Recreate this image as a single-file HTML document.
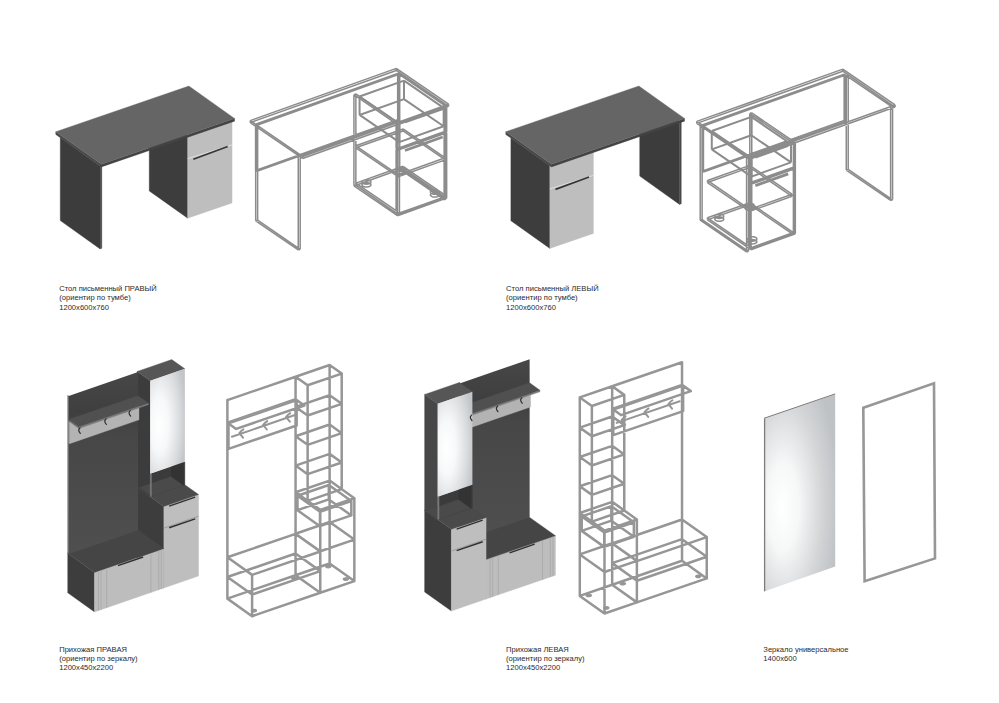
<!DOCTYPE html>
<html><head><meta charset="utf-8"><style>
html,body{margin:0;padding:0;background:#fff;overflow:hidden;}
svg{display:block;}
text{font-family:"Liberation Sans",sans-serif;font-size:7.6px;fill:#2a2a2a;}
</style></head><body>
<svg width="999" height="703" viewBox="0 0 999 703">
<rect width="999" height="703" fill="#fff"/>
<polygon points="187.70,218.20 149.23,190.89 149.23,108.24 187.70,135.55" fill="#3d3d3d" stroke="#3d3d3d" stroke-width="0.35" stroke-linejoin="round"/>
<polygon points="187.70,218.20 232.07,202.95 232.07,120.30 187.70,135.55" fill="#bebebe" stroke="#bebebe" stroke-width="0.35" stroke-linejoin="round"/>
<polygon points="100.08,248.90 60.24,220.61 60.24,137.62 100.08,165.91" fill="#3c3c3c" stroke="#3c3c3c" stroke-width="0.35" stroke-linejoin="round"/>
<polygon points="100.08,248.90 101.85,248.29 101.85,165.30 100.08,165.91" fill="#4a4a4a" stroke="#4a4a4a" stroke-width="0.35" stroke-linejoin="round"/>
<polygon points="101.45,166.88 55.75,134.43 55.75,131.72 101.45,164.17" fill="#484848" stroke="#484848" stroke-width="0.35" stroke-linejoin="round"/>
<polygon points="101.45,166.88 234.55,121.13 234.55,118.42 101.45,164.17" fill="#434343" stroke="#434343" stroke-width="0.35" stroke-linejoin="round"/>
<polygon points="101.45,164.17 234.55,118.42 188.85,85.97 55.75,131.72" fill="#656565" stroke="#656565" stroke-width="0.35" stroke-linejoin="round"/>
<line x1="187.78" y1="158.61" x2="232.14" y2="144.93" stroke="#e2e2e2" stroke-width="0.9"/>
<line x1="193.32" y1="159.18" x2="227.71" y2="146.57" stroke="#353535" stroke-width="1.7"/>
<path d="M302.60 158.46L448.60 106.26M250.30 122.64L396.30 70.44M302.60 156.43L448.60 104.23M250.30 120.61L396.30 68.41M302.60 158.46L250.30 122.64M448.60 106.26L396.30 70.44M302.60 156.43L250.30 120.61M448.60 104.23L396.30 68.41M302.60 158.46L302.60 156.43M448.60 106.26L448.60 104.23M250.30 122.64L250.30 120.61M396.30 70.44L396.30 68.41M298.24 249.96L300.19 249.27M255.70 220.83L257.65 220.14M298.24 155.48L300.19 154.78M255.70 126.34L257.65 125.65M298.24 249.96L255.70 220.83M300.19 249.27L257.65 220.14M298.24 155.48L255.70 126.34M300.19 154.78L257.65 125.65M298.24 249.96L298.24 155.48M300.19 249.27L300.19 154.78M255.70 220.83L255.70 126.34M257.65 220.14L257.65 125.65M444.13 199.71L446.08 199.02M397.75 167.95L399.70 167.26M444.13 105.23L446.08 104.53M397.75 73.47L399.70 72.77M444.13 199.71L397.75 167.95M446.08 199.02L399.70 167.26M444.13 105.23L397.75 73.47M446.08 104.53L399.70 72.77M444.13 199.71L444.13 105.23M446.08 199.02L446.08 104.53M397.75 167.95L397.75 73.47M399.70 167.26L399.70 72.77M256.95 171.40L399.06 120.59M255.56 170.44L397.67 119.63M256.95 125.17L399.06 74.36M255.56 124.21L397.67 73.41M256.95 171.40L255.56 170.44M399.06 120.59L397.67 119.63M256.95 125.17L255.56 124.21M399.06 74.36L397.67 73.41M256.95 171.40L256.95 125.17M399.06 120.59L399.06 74.36M255.56 170.44L255.56 124.21M397.67 119.63L397.67 73.41M397.50 215.72L399.45 215.02M353.92 185.87L355.86 185.17M397.50 124.53L399.45 123.84M353.92 94.68L355.86 93.99M397.50 215.72L353.92 185.87M399.45 215.02L355.86 185.17M397.50 124.53L353.92 94.68M399.45 123.84L355.86 93.99M397.50 215.72L397.50 124.53M399.45 215.02L399.45 123.84M353.92 185.87L353.92 94.68M355.86 185.17L355.86 93.99M399.45 215.02L446.66 198.14M355.86 185.17L403.07 168.29M399.45 212.99L446.66 196.11M355.86 183.14L403.07 166.26M399.45 215.02L355.86 185.17M446.66 198.14L403.07 168.29M399.45 212.99L355.86 183.14M446.66 196.11L403.07 166.26M399.45 215.02L399.45 212.99M446.66 198.14L446.66 196.11M355.86 185.17L355.86 183.14M403.07 168.29L403.07 166.26M398.05 176.73L445.26 159.85M355.86 147.83L403.07 130.96M398.05 174.70L445.26 157.82M355.86 145.80L403.07 128.92M398.05 176.73L355.86 147.83M445.26 159.85L403.07 130.96M398.05 174.70L355.86 145.80M445.26 157.82L403.07 128.92M398.05 176.73L398.05 174.70M445.26 159.85L445.26 157.82M355.86 147.83L355.86 145.80M403.07 130.96L403.07 128.92M397.50 215.72L446.66 198.14M396.11 214.76L445.26 197.19M397.50 150.31L446.66 132.74M396.11 149.36L445.26 131.78M397.50 215.72L396.11 214.76M446.66 198.14L445.26 197.19M397.50 150.31L396.11 149.36M446.66 132.74L445.26 131.78M397.50 215.72L397.50 150.31M446.66 198.14L446.66 132.74M396.11 214.76L396.11 149.36M445.26 197.19L445.26 131.78M397.50 149.80L446.66 132.23M396.11 148.85L445.26 131.28M397.50 124.53L446.66 106.96M396.11 123.58L445.26 106.00M397.50 149.80L396.11 148.85M446.66 132.23L445.26 131.28M397.50 124.53L396.11 123.58M446.66 106.96L445.26 106.00M397.50 149.80L397.50 124.53M446.66 132.23L446.66 106.96M396.11 148.85L396.11 123.58M445.26 131.28L445.26 106.00M438.51 193.57L437.52 193.08L436.27 192.77L434.89 192.66L433.50 192.77L432.24 193.09L431.24 193.58L430.60 194.20L430.37 194.88L430.58 195.57L431.21 196.18L432.19 196.67L433.44 196.99L434.83 197.10L436.22 196.99L437.47 196.67L438.47 196.18L439.12 195.56L439.35 194.88L439.14 194.19ZM438.51 190.78L437.52 190.29L436.27 189.98L434.89 189.87L433.50 189.98L432.24 190.29L431.24 190.78L430.60 191.40L430.37 192.09L430.58 192.77L431.21 193.39L432.19 193.88L433.44 194.19L434.83 194.30L436.22 194.19L437.47 193.88L438.47 193.39L439.12 192.77L439.35 192.08L439.14 191.40ZM370.10 183.50L369.11 183.01L367.86 182.70L366.48 182.59L365.09 182.70L363.83 183.02L362.83 183.51L362.19 184.13L361.96 184.81L362.17 185.50L362.80 186.11L363.78 186.60L365.03 186.92L366.42 187.02L367.81 186.91L369.06 186.60L370.06 186.11L370.71 185.49L370.94 184.80L370.73 184.12ZM370.10 180.71L369.11 180.22L367.86 179.91L366.48 179.80L365.09 179.91L363.83 180.22L362.83 180.71L362.19 181.33L361.96 182.02L362.17 182.70L362.80 183.32L363.78 183.81L365.03 184.12L366.42 184.23L367.81 184.12L369.06 183.81L370.06 183.31L370.71 182.70L370.94 182.01L370.73 181.33ZM405.38 170.89L404.40 170.40L403.15 170.08L401.76 169.98L400.37 170.09L399.12 170.40L398.12 170.89L397.47 171.51L397.24 172.20L397.45 172.88L398.08 173.50L399.07 173.99L400.32 174.30L401.70 174.41L403.09 174.30L404.35 173.98L405.35 173.49L405.99 172.87L406.22 172.19L406.01 171.51ZM405.38 168.09L404.40 167.60L403.15 167.29L401.76 167.18L400.37 167.29L399.12 167.61L398.12 168.10L397.47 168.72L397.24 169.40L397.45 170.09L398.08 170.70L399.07 171.19L400.32 171.51L401.70 171.62L403.09 171.51L404.35 171.19L405.35 170.70L405.99 170.08L406.22 169.40L406.01 168.71Z" fill="none" stroke="#8c8c8c" stroke-width="1.5" stroke-linejoin="round"/>
<path d="M399.24 142.11L443.65 126.23M359.57 114.94L403.98 99.07M399.24 123.69L443.65 107.81M359.57 96.53L403.98 80.65M399.24 142.11L359.57 114.94M443.65 126.23L403.98 99.07M399.24 123.69L359.57 96.53M443.65 107.81L403.98 80.65M399.24 142.11L399.24 123.69M443.65 126.23L443.65 107.81M359.57 114.94L359.57 96.53M403.98 99.07L403.98 80.65" fill="none" stroke="#8c8c8c" stroke-width="2" stroke-linejoin="round"/>
<path d="M404.98 122.04L442.69 108.56M404.98 150.49L442.69 137.00" fill="none" stroke="#8c8c8c" stroke-width="2.8"/>
<polygon points="679.52,204.40 639.69,176.12 639.69,93.13 679.52,121.41" fill="#3c3c3c" stroke="#3c3c3c" stroke-width="0.35" stroke-linejoin="round"/>
<polygon points="679.52,204.40 681.30,203.79 681.30,120.80 679.52,121.41" fill="#4a4a4a" stroke="#4a4a4a" stroke-width="0.35" stroke-linejoin="round"/>
<polygon points="549.85,248.40 510.85,220.71 510.85,138.05 549.85,165.74" fill="#3d3d3d" stroke="#3d3d3d" stroke-width="0.35" stroke-linejoin="round"/>
<polygon points="549.85,248.40 593.44,233.41 593.44,150.76 549.85,165.74" fill="#bebebe" stroke="#bebebe" stroke-width="0.35" stroke-linejoin="round"/>
<polygon points="551.45,166.88 505.75,134.43 505.75,131.72 551.45,164.17" fill="#484848" stroke="#484848" stroke-width="0.35" stroke-linejoin="round"/>
<polygon points="551.45,166.88 684.55,121.13 684.55,118.42 551.45,164.17" fill="#434343" stroke="#434343" stroke-width="0.35" stroke-linejoin="round"/>
<polygon points="551.45,164.17 684.55,118.42 638.85,85.97 505.75,131.72" fill="#656565" stroke="#656565" stroke-width="0.35" stroke-linejoin="round"/>
<line x1="549.93" y1="188.80" x2="593.52" y2="175.40" stroke="#e2e2e2" stroke-width="0.9"/>
<line x1="555.47" y1="189.37" x2="589.08" y2="177.03" stroke="#353535" stroke-width="1.7"/>
<path d="M895.10 107.01L749.10 159.21M842.80 71.19L696.80 123.39M895.10 104.98L749.10 157.18M842.80 69.16L696.80 121.36M895.10 107.01L842.80 71.19M749.10 159.21L696.80 123.39M895.10 104.98L842.80 69.16M749.10 157.18L696.80 121.36M895.10 107.01L895.10 104.98M749.10 159.21L749.10 157.18M842.80 71.19L842.80 69.16M696.80 123.39L696.80 121.36M892.58 199.77L890.63 200.46M848.21 169.38L846.26 170.08M892.58 105.28L890.63 105.98M848.21 74.89L846.26 75.59M892.58 199.77L848.21 169.38M890.63 200.46L846.26 170.08M892.58 105.28L848.21 74.89M890.63 105.98L846.26 75.59M892.58 199.77L892.58 105.28M890.63 200.46L890.63 105.98M848.21 169.38L848.21 74.89M846.26 170.08L846.26 75.59M748.52 251.27L746.57 251.97M702.14 219.51L700.20 220.21M748.52 156.78L746.57 157.48M702.14 125.02L700.20 125.72M748.52 251.27L702.14 219.51M746.57 251.97L700.20 220.21M748.52 156.78L702.14 125.02M746.57 157.48L700.20 125.72M748.52 251.27L748.52 156.78M746.57 251.97L746.57 157.48M702.14 219.51L702.14 125.02M700.20 220.21L700.20 125.72M845.56 121.34L703.45 172.15M844.17 120.38L702.06 171.19M845.56 75.11L703.45 125.92M844.17 74.16L702.06 124.96M845.56 121.34L844.17 120.38M703.45 172.15L702.06 171.19M845.56 75.11L844.17 74.16M703.45 125.92L702.06 124.96M845.56 121.34L845.56 75.11M703.45 172.15L703.45 125.92M844.17 120.38L844.17 74.16M702.06 171.19L702.06 124.96M795.33 233.87L793.39 234.56M751.75 204.02L749.80 204.71M795.33 142.68L793.39 143.38M751.75 112.83L749.80 113.53M795.33 233.87L751.75 204.02M793.39 234.56L749.80 204.71M795.33 142.68L751.75 112.83M793.39 143.38L749.80 113.53M795.33 233.87L795.33 142.68M793.39 234.56L793.39 143.38M751.75 204.02L751.75 112.83M749.80 204.71L749.80 113.53M793.39 234.56L751.05 249.70M749.80 204.71L707.46 219.85M793.39 232.53L751.05 247.67M749.80 202.68L707.46 217.82M793.39 234.56L749.80 204.71M751.05 249.70L707.46 219.85M793.39 232.53L749.80 202.68M751.05 247.67L707.46 217.82M793.39 234.56L793.39 232.53M751.05 249.70L751.05 247.67M749.80 204.71L749.80 202.68M707.46 219.85L707.46 217.82M791.99 196.27L749.65 211.41M749.80 167.38L707.46 182.51M791.99 194.24L749.65 209.38M749.80 165.34L707.46 180.48M791.99 196.27L749.80 167.38M749.65 211.41L707.46 182.51M791.99 194.24L749.80 165.34M749.65 209.38L707.46 180.48M791.99 196.27L791.99 194.24M749.65 211.41L749.65 209.38M749.80 167.38L749.80 165.34M707.46 182.51L707.46 180.48M795.33 233.87L751.05 249.70M793.94 232.91L749.65 248.75M795.33 168.46L751.05 184.30M793.94 167.51L749.65 183.34M795.33 233.87L793.94 232.91M751.05 249.70L749.65 248.75M795.33 168.46L793.94 167.51M751.05 184.30L749.65 183.34M795.33 233.87L795.33 168.46M751.05 249.70L751.05 184.30M793.94 232.91L793.94 167.51M749.65 248.75L749.65 183.34M795.33 167.95L751.05 183.79M793.94 167.00L749.65 182.83M795.33 142.68L751.05 158.52M793.94 141.73L749.65 157.56M795.33 167.95L793.94 167.00M751.05 183.79L749.65 182.83M795.33 142.68L793.94 141.73M751.05 158.52L749.65 157.56M795.33 167.95L795.33 142.68M751.05 183.79L751.05 158.52M793.94 167.00L793.94 141.73M749.65 182.83L749.65 157.56M748.74 243.04L748.11 242.43L747.90 241.74L748.13 241.06L748.77 240.44L749.77 239.95L751.03 239.63L752.42 239.52L753.80 239.63L755.05 239.94L756.04 240.43L756.67 241.05L756.88 241.74L756.65 242.42L756.00 243.04L755.00 243.53L753.75 243.85L752.36 243.96L750.97 243.85L749.72 243.53ZM748.74 240.25L748.11 239.63L747.90 238.95L748.13 238.26L748.77 237.64L749.77 237.15L751.03 236.84L752.42 236.73L753.80 236.84L755.05 237.15L756.04 237.64L756.67 238.26L756.88 238.94L756.65 239.63L756.00 240.25L755.00 240.74L753.75 241.05L752.36 241.16L750.97 241.05L749.72 240.74ZM746.03 209.48L745.40 208.87L745.19 208.18L745.42 207.50L746.06 206.88L747.06 206.39L748.32 206.07L749.71 205.96L751.10 206.07L752.34 206.38L753.33 206.87L753.96 207.49L754.17 208.17L753.94 208.86L753.29 209.48L752.29 209.97L751.04 210.28L749.65 210.39L748.26 210.29L747.02 209.97ZM746.03 206.69L745.40 206.07L745.19 205.39L745.42 204.70L746.06 204.08L747.06 203.59L748.32 203.28L749.71 203.17L751.10 203.28L752.34 203.59L753.33 204.08L753.96 204.70L754.17 205.38L753.94 206.07L753.29 206.68L752.29 207.18L751.04 207.49L749.65 207.60L748.26 207.49L747.02 207.18ZM715.61 220.36L714.98 219.74L714.77 219.06L715.00 218.37L715.65 217.75L716.65 217.26L717.90 216.95L719.29 216.84L720.68 216.94L721.93 217.26L722.91 217.75L723.54 218.37L723.75 219.05L723.52 219.73L722.88 220.35L721.88 220.84L720.62 221.16L719.23 221.27L717.85 221.16L716.60 220.85ZM715.61 217.56L714.98 216.95L714.77 216.26L715.00 215.58L715.65 214.96L716.65 214.47L717.90 214.15L719.29 214.04L720.68 214.15L721.93 214.46L722.91 214.95L723.54 215.57L723.75 216.26L723.52 216.94L722.88 217.56L721.88 218.05L720.62 218.37L719.23 218.48L717.85 218.37L716.60 218.05Z" fill="none" stroke="#8c8c8c" stroke-width="1.5" stroke-linejoin="round"/>
<path d="M790.99 162.43L751.44 176.57M751.32 135.27L711.78 149.41M790.99 144.02L751.44 158.15M751.32 116.85L711.78 130.99M790.99 162.43L751.32 135.27M751.44 176.57L711.78 149.41M790.99 144.02L751.32 116.85M751.44 158.15L711.78 130.99M790.99 162.43L790.99 144.02M751.44 176.57L751.44 158.15M751.32 135.27L751.32 116.85M711.78 149.41L711.78 130.99" fill="none" stroke="#8c8c8c" stroke-width="2" stroke-linejoin="round"/>
<path d="M788.21 145.41L755.36 157.16M788.21 173.86L755.36 185.60" fill="none" stroke="#8c8c8c" stroke-width="2.8"/>
<defs><radialGradient id="hg1" cx="0.3" cy="0.5" r="0.75" fx="0.25" fy="0.55"><stop offset="0" stop-color="#ffffff"/><stop offset="0.35" stop-color="#f7f8f9"/><stop offset="0.75" stop-color="#d9dbdd"/><stop offset="1" stop-color="#c3c6c9"/></radialGradient>
<linearGradient id="bpg" x1="0" y1="0" x2="0" y2="1"><stop offset="0" stop-color="#474747"/><stop offset="0.22" stop-color="#3f3f3f"/><stop offset="0.35" stop-color="#474747"/><stop offset="1" stop-color="#4f4f4f"/></linearGradient></defs>
<polygon points="163.89,588.05 137.09,569.02 137.09,487.38 163.89,506.42" fill="#3d3d3d" stroke="#3d3d3d" stroke-width="0.35" stroke-linejoin="round"/>
<polygon points="163.89,588.05 198.59,576.12 198.59,494.49 163.89,506.42" fill="#bebebe" stroke="#bebebe" stroke-width="0.35" stroke-linejoin="round"/>
<polygon points="163.89,506.42 198.59,494.49 171.78,475.46 137.09,487.38" fill="#4a4a4a" stroke="#4a4a4a" stroke-width="0.35" stroke-linejoin="round"/>
<line x1="169.16" y1="506.11" x2="195.18" y2="497.16" stroke="#303030" stroke-width="1.4"/>
<line x1="163.95" y1="528.10" x2="198.65" y2="516.18" stroke="#8e8e8e" stroke-width="0.7"/>
<line x1="169.16" y1="527.75" x2="195.18" y2="518.81" stroke="#303030" stroke-width="1.4"/>
<polygon points="94.50,611.90 67.70,592.87 67.70,553.35 94.50,572.39" fill="#3d3d3d" stroke="#3d3d3d" stroke-width="0.35" stroke-linejoin="round"/>
<polygon points="94.50,611.90 163.89,588.05 163.89,548.53 94.50,572.39" fill="#bdbdbd" stroke="#bdbdbd" stroke-width="0.35" stroke-linejoin="round"/>
<polygon points="94.50,572.39 163.89,548.53 137.09,529.50 67.70,553.35" fill="#454545" stroke="#454545" stroke-width="0.35" stroke-linejoin="round"/>
<line x1="117.98" y1="565.64" x2="143.13" y2="556.99" stroke="#303030" stroke-width="1.4"/>
<line x1="98.46" y1="610.60" x2="98.46" y2="571.09" stroke="#a5a5a5" stroke-width="0.7"/>
<line x1="101.07" y1="609.71" x2="101.07" y2="570.19" stroke="#a5a5a5" stroke-width="0.7"/>
<line x1="106.70" y1="607.77" x2="106.70" y2="568.25" stroke="#a5a5a5" stroke-width="0.7"/>
<line x1="150.94" y1="592.56" x2="150.94" y2="553.05" stroke="#a5a5a5" stroke-width="0.7"/>
<line x1="158.75" y1="589.88" x2="158.75" y2="550.37" stroke="#a5a5a5" stroke-width="0.7"/>
<line x1="161.35" y1="588.99" x2="161.35" y2="549.47" stroke="#a5a5a5" stroke-width="0.7"/>
<polygon points="150.19,496.69 137.09,487.38 137.09,371.45 150.19,380.75" fill="#3c3c3c" stroke="#3c3c3c" stroke-width="0.35" stroke-linejoin="round"/>
<polygon points="150.19,380.75 184.89,368.83 171.78,359.52 137.09,371.45" fill="#565656" stroke="#565656" stroke-width="0.35" stroke-linejoin="round"/>
<polygon points="150.19,496.69 184.89,484.76 184.89,461.77 150.19,473.70" fill="#3b3b3b" stroke="#3b3b3b" stroke-width="0.35" stroke-linejoin="round"/>
<polygon points="151.58,496.21 183.50,485.24 171.35,476.61 139.43,487.58" fill="#4a4a4a" stroke="#4a4a4a" stroke-width="0.35" stroke-linejoin="round"/>
<polygon points="183.50,485.24 171.35,476.61 171.35,453.62 183.50,462.25" fill="#333333" stroke="#333333" stroke-width="0.35" stroke-linejoin="round"/>
<polygon points="150.19,496.69 151.58,496.21 151.58,473.22 150.19,473.70" fill="#7a7a7a" stroke="#7a7a7a" stroke-width="0.35" stroke-linejoin="round"/>
<polygon points="150.19,473.70 184.89,461.77 184.89,368.83 150.19,380.75" fill="url(#hg1)" stroke="none" stroke-width="0.35" stroke-linejoin="round"/>
<polygon points="68.65,554.03 67.70,553.35 67.70,395.30 68.65,395.97" fill="#5a5a5a" stroke="#5a5a5a" stroke-width="0.35" stroke-linejoin="round"/>
<polygon points="68.65,554.03 138.04,530.18 138.04,372.12 68.65,395.97" fill="url(#bpg)" stroke="none" stroke-width="0.35" stroke-linejoin="round"/>
<polygon points="69.60,443.71 68.65,443.03 68.65,421.12 69.60,421.80" fill="#9a9a9a" stroke="#9a9a9a" stroke-width="0.35" stroke-linejoin="round"/>
<polygon points="69.60,443.71 138.99,419.86 138.99,397.95 69.60,421.80" fill="#b3b3b3" stroke="#b3b3b3" stroke-width="0.35" stroke-linejoin="round"/>
<polygon points="79.01,428.48 68.65,421.12 68.65,419.50 79.01,426.86" fill="#6a6a6a" stroke="#6a6a6a" stroke-width="0.35" stroke-linejoin="round"/>
<polygon points="79.01,428.48 148.41,404.63 148.41,403.01 79.01,426.86" fill="#7c7c7c" stroke="#7c7c7c" stroke-width="0.35" stroke-linejoin="round"/>
<polygon points="79.01,426.86 148.41,403.01 138.04,395.65 68.65,419.50" fill="#505050" stroke="#505050" stroke-width="0.35" stroke-linejoin="round"/>
<path d="M79.94 427.95q-2.6 2.2 0.4 5.4" fill="none" stroke="#2b2b2b" stroke-width="1.2" stroke-linecap="round"/>
<path d="M105.97 419.00q-2.6 2.2 0.4 5.4" fill="none" stroke="#2b2b2b" stroke-width="1.2" stroke-linecap="round"/>
<path d="M130.25 410.65q-2.6 2.2 0.4 5.4" fill="none" stroke="#2b2b2b" stroke-width="1.2" stroke-linecap="round"/>
<polygon points="486.10,599.07 459.29,580.04 459.29,540.53 486.10,559.56" fill="#3d3d3d" stroke="#3d3d3d" stroke-width="0.35" stroke-linejoin="round"/>
<polygon points="486.10,599.07 555.49,575.22 555.49,535.71 486.10,559.56" fill="#bdbdbd" stroke="#bdbdbd" stroke-width="0.35" stroke-linejoin="round"/>
<polygon points="486.10,559.56 555.49,535.71 528.68,516.68 459.29,540.53" fill="#454545" stroke="#454545" stroke-width="0.35" stroke-linejoin="round"/>
<line x1="509.57" y1="552.81" x2="534.73" y2="544.16" stroke="#303030" stroke-width="1.4"/>
<line x1="490.06" y1="597.78" x2="490.06" y2="558.26" stroke="#a5a5a5" stroke-width="0.7"/>
<line x1="492.66" y1="596.88" x2="492.66" y2="557.37" stroke="#a5a5a5" stroke-width="0.7"/>
<line x1="498.30" y1="594.94" x2="498.30" y2="555.43" stroke="#a5a5a5" stroke-width="0.7"/>
<line x1="542.54" y1="579.74" x2="542.54" y2="540.22" stroke="#a5a5a5" stroke-width="0.7"/>
<line x1="550.34" y1="577.05" x2="550.34" y2="537.54" stroke="#a5a5a5" stroke-width="0.7"/>
<line x1="552.94" y1="576.16" x2="552.94" y2="536.65" stroke="#a5a5a5" stroke-width="0.7"/>
<polygon points="460.25,541.21 459.29,540.53 459.29,382.47 460.25,383.15" fill="#5a5a5a" stroke="#5a5a5a" stroke-width="0.35" stroke-linejoin="round"/>
<polygon points="460.25,541.21 529.64,517.35 529.64,359.30 460.25,383.15" fill="url(#bpg)" stroke="none" stroke-width="0.35" stroke-linejoin="round"/>
<polygon points="461.20,430.88 460.25,430.21 460.25,408.29 461.20,408.97" fill="#9a9a9a" stroke="#9a9a9a" stroke-width="0.35" stroke-linejoin="round"/>
<polygon points="461.20,430.88 530.59,407.03 530.59,385.12 461.20,408.97" fill="#b3b3b3" stroke="#b3b3b3" stroke-width="0.35" stroke-linejoin="round"/>
<polygon points="470.61,415.65 460.25,408.29 460.25,406.68 470.61,414.04" fill="#6a6a6a" stroke="#6a6a6a" stroke-width="0.35" stroke-linejoin="round"/>
<polygon points="470.61,415.65 540.00,391.80 540.00,390.19 470.61,414.04" fill="#7c7c7c" stroke="#7c7c7c" stroke-width="0.35" stroke-linejoin="round"/>
<polygon points="470.61,414.04 540.00,390.19 529.64,382.83 460.25,406.68" fill="#505050" stroke="#505050" stroke-width="0.35" stroke-linejoin="round"/>
<polygon points="451.40,611.00 424.60,591.97 424.60,510.34 451.40,529.37" fill="#3d3d3d" stroke="#3d3d3d" stroke-width="0.35" stroke-linejoin="round"/>
<polygon points="451.40,611.00 486.10,599.07 486.10,517.44 451.40,529.37" fill="#bebebe" stroke="#bebebe" stroke-width="0.35" stroke-linejoin="round"/>
<polygon points="451.40,529.37 486.10,517.44 459.29,498.41 424.60,510.34" fill="#4a4a4a" stroke="#4a4a4a" stroke-width="0.35" stroke-linejoin="round"/>
<line x1="456.66" y1="529.06" x2="482.69" y2="520.11" stroke="#303030" stroke-width="1.4"/>
<line x1="451.46" y1="551.05" x2="486.16" y2="539.13" stroke="#8e8e8e" stroke-width="0.7"/>
<line x1="456.66" y1="550.70" x2="482.69" y2="541.76" stroke="#303030" stroke-width="1.4"/>
<polygon points="437.70,519.64 424.60,510.34 424.60,394.40 437.70,403.70" fill="#474747" stroke="#474747" stroke-width="0.35" stroke-linejoin="round"/>
<polygon points="437.70,403.70 472.40,391.78 459.29,382.47 424.60,394.40" fill="#565656" stroke="#565656" stroke-width="0.35" stroke-linejoin="round"/>
<polygon points="437.70,519.64 472.40,507.71 472.40,484.72 437.70,496.65" fill="#3b3b3b" stroke="#3b3b3b" stroke-width="0.35" stroke-linejoin="round"/>
<polygon points="439.09,519.16 471.01,508.19 458.86,499.56 426.94,510.54" fill="#4a4a4a" stroke="#4a4a4a" stroke-width="0.35" stroke-linejoin="round"/>
<polygon points="471.01,508.19 458.86,499.56 458.86,476.57 471.01,485.20" fill="#333333" stroke="#333333" stroke-width="0.35" stroke-linejoin="round"/>
<polygon points="437.70,519.64 439.09,519.16 439.09,496.17 437.70,496.65" fill="#7a7a7a" stroke="#7a7a7a" stroke-width="0.35" stroke-linejoin="round"/>
<polygon points="437.70,496.65 472.40,484.72 472.40,391.78 437.70,403.70" fill="url(#hg1)" stroke="none" stroke-width="0.35" stroke-linejoin="round"/>
<path d="M471.54 415.12q-2.6 2.2 0.4 5.4" fill="none" stroke="#2b2b2b" stroke-width="1.2" stroke-linecap="round"/>
<path d="M497.56 406.18q-2.6 2.2 0.4 5.4" fill="none" stroke="#2b2b2b" stroke-width="1.2" stroke-linecap="round"/>
<path d="M521.85 397.83q-2.6 2.2 0.4 5.4" fill="none" stroke="#2b2b2b" stroke-width="1.2" stroke-linecap="round"/>
<path d="M227.39 598.61L295.56 575.21M227.39 598.61L295.56 575.21M227.39 400.10L295.56 376.70M227.39 400.10L295.56 376.70M227.39 598.61L227.39 598.61M295.56 575.21L295.56 575.21M227.39 400.10L227.39 400.10M295.56 376.70L295.56 376.70M227.39 598.61L227.39 400.10M295.56 575.21L295.56 376.70M227.39 598.61L227.39 400.10M295.56 575.21L295.56 376.70M228.49 448.88L296.65 425.48M228.49 448.88L296.65 425.48M228.49 423.44L296.65 400.04M228.49 423.44L296.65 400.04M228.49 448.88L228.49 448.88M296.65 425.48L296.65 425.48M228.49 423.44L228.49 423.44M296.65 400.04L296.65 400.04M228.49 448.88L228.49 423.44M296.65 425.48L296.65 400.04M228.49 448.88L228.49 423.44M296.65 425.48L296.65 400.04M236.18 428.91L304.34 405.51M227.39 422.66L295.56 399.26M236.18 428.91L304.34 405.51M227.39 422.66L295.56 399.26M236.18 428.91L227.39 422.66M304.34 405.51L295.56 399.26M236.18 428.91L227.39 422.66M304.34 405.51L295.56 399.26M236.18 428.91L236.18 428.91M304.34 405.51L304.34 405.51M227.39 422.66L227.39 422.66M295.56 399.26L295.56 399.26M252.10 616.20L320.26 592.80M227.39 598.61L295.56 575.21M252.10 574.87L320.26 551.47M227.39 557.28L295.56 533.88M252.10 616.20L227.39 598.61M320.26 592.80L295.56 575.21M252.10 574.87L227.39 557.28M320.26 551.47L295.56 533.88M252.10 616.20L252.10 574.87M320.26 592.80L320.26 551.47M227.39 598.61L227.39 557.28M295.56 575.21L295.56 533.88M252.10 594.54L320.26 571.14M227.39 576.95L295.56 553.55M252.10 594.54L320.26 571.14M227.39 576.95L295.56 553.55M252.10 594.54L227.39 576.95M320.26 571.14L295.56 553.55M252.10 594.54L227.39 576.95M320.26 571.14L295.56 553.55M252.10 594.54L252.10 594.54M320.26 571.14L320.26 571.14M227.39 576.95L227.39 576.95M295.56 553.55L295.56 553.55M320.26 592.80L354.34 581.10M295.56 575.21L329.63 563.50M320.26 509.88L354.34 498.18M295.56 492.28L329.63 480.58M320.26 592.80L295.56 575.21M354.34 581.10L329.63 563.50M320.26 509.88L295.56 492.28M354.34 498.18L329.63 480.58M320.26 592.80L320.26 509.88M354.34 581.10L354.34 498.18M295.56 575.21L295.56 492.28M329.63 563.50L329.63 480.58M320.26 551.29L354.34 539.59M295.56 533.70L329.63 522.00M320.26 551.29L354.34 539.59M295.56 533.70L329.63 522.00M320.26 551.29L295.56 533.70M354.34 539.59L329.63 522.00M320.26 551.29L295.56 533.70M354.34 539.59L329.63 522.00M320.26 551.29L320.26 551.29M354.34 539.59L354.34 539.59M295.56 533.70L295.56 533.70M329.63 522.00L329.63 522.00M319.98 526.19L351.33 515.43M297.47 510.16L328.82 499.40M319.98 511.76L351.33 500.99M297.47 495.73L328.82 484.96M319.98 526.19L297.47 510.16M351.33 515.43L328.82 499.40M319.98 511.76L297.47 495.73M351.33 500.99L328.82 484.96M319.98 526.19L319.98 511.76M351.33 515.43L351.33 500.99M297.47 510.16L297.47 495.73M328.82 499.40L328.82 484.96M307.63 500.89L341.71 489.19M295.56 492.28L329.63 480.58M307.63 385.30L341.71 373.60M295.56 376.70L329.63 365.00M307.63 500.89L295.56 492.28M341.71 489.19L329.63 480.58M307.63 385.30L295.56 376.70M341.71 373.60L329.63 365.00M307.63 500.89L307.63 385.30M341.71 489.19L341.71 373.60M295.56 492.28L295.56 376.70M329.63 480.58L329.63 365.00M307.63 474.18L341.71 462.48M295.56 465.58L329.63 453.88M307.63 474.18L341.71 462.48M295.56 465.58L329.63 453.88M307.63 474.18L295.56 465.58M341.71 462.48L329.63 453.88M307.63 474.18L295.56 465.58M341.71 462.48L329.63 453.88M307.63 474.18L307.63 474.18M341.71 462.48L341.71 462.48M295.56 465.58L295.56 465.58M329.63 453.88L329.63 453.88M307.63 444.85L341.71 433.15M295.56 436.25L329.63 424.55M307.63 444.85L341.71 433.15M295.56 436.25L329.63 424.55M307.63 444.85L295.56 436.25M341.71 433.15L329.63 424.55M307.63 444.85L295.56 436.25M341.71 433.15L329.63 424.55M307.63 444.85L307.63 444.85M341.71 433.15L341.71 433.15M295.56 436.25L295.56 436.25M329.63 424.55L329.63 424.55M307.63 415.53L341.71 403.83M295.56 406.93L329.63 395.23M307.63 415.53L341.71 403.83M295.56 406.93L329.63 395.23M307.63 415.53L295.56 406.93M341.71 403.83L329.63 395.23M307.63 415.53L295.56 406.93M341.71 403.83L329.63 395.23M307.63 415.53L307.63 415.53M341.71 403.83L341.71 403.83M295.56 406.93L295.56 406.93M329.63 395.23L329.63 395.23" fill="none" stroke="#969696" stroke-width="2.5" stroke-linejoin="round" stroke-linecap="round"/>
<path d="M243.37 429.29q-2.2 1.4 -4.2 4q1.6 1.6 3.8 4.4M267.23 421.10q-2.2 1.4 -4.2 4q1.6 1.6 3.8 4.4M290.23 413.20q-2.2 1.4 -4.2 4q1.6 1.6 3.8 4.4M231.90 436.71L294.95 415.06" fill="none" stroke="#969696" stroke-width="2" stroke-linejoin="round" stroke-linecap="round"/>
<path d="M256.13 609.89L255.58 609.62L254.87 609.44L254.07 609.39L253.24 609.45L252.49 609.64L251.88 609.92L251.46 610.28L251.29 610.67L251.37 611.06L251.70 611.42L252.25 611.69L252.96 611.87L253.77 611.92L254.59 611.86L255.35 611.67L255.96 611.39L256.37 611.03L256.55 610.64L256.47 610.25ZM296.50 577.49L295.95 577.22L295.24 577.04L294.43 576.98L293.61 577.05L292.86 577.24L292.24 577.52L291.83 577.88L291.65 578.27L291.74 578.66L292.07 579.01L292.62 579.29L293.33 579.47L294.14 579.52L294.96 579.46L295.71 579.27L296.33 578.99L296.74 578.63L296.92 578.24L296.83 577.84ZM348.15 578.30L347.60 578.03L346.89 577.85L346.08 577.80L345.26 577.86L344.51 578.05L343.89 578.33L343.48 578.69L343.30 579.08L343.39 579.47L343.72 579.83L344.27 580.10L344.98 580.28L345.79 580.33L346.61 580.27L347.36 580.08L347.98 579.80L348.39 579.44L348.57 579.05L348.48 578.66ZM330.58 565.79L330.03 565.52L329.32 565.34L328.51 565.28L327.69 565.35L326.94 565.54L326.32 565.82L325.91 566.18L325.73 566.57L325.82 566.96L326.15 567.31L326.70 567.59L327.41 567.77L328.22 567.82L329.04 567.76L329.79 567.57L330.41 567.29L330.82 566.93L331.00 566.54L330.91 566.14Z" fill="#969696" stroke="#969696" stroke-width="1.2"/>
<path d="M682.03 560.80L612.17 584.79M682.03 560.80L612.17 584.79M682.03 362.30L612.17 386.28M682.03 362.30L612.17 386.28M682.03 560.80L682.03 560.80M612.17 584.79L612.17 584.79M682.03 362.30L682.03 362.30M612.17 386.28L612.17 386.28M682.03 560.80L682.03 362.30M612.17 584.79L612.17 386.28M682.03 560.80L682.03 362.30M612.17 584.79L612.17 386.28M683.13 411.08L613.27 435.07M683.13 411.08L613.27 435.07M683.13 385.64L613.27 409.62M683.13 385.64L613.27 409.62M683.13 411.08L683.13 411.08M613.27 435.07L613.27 435.07M683.13 385.64L683.13 385.64M613.27 409.62L613.27 409.62M683.13 411.08L683.13 385.64M613.27 435.07L613.27 409.62M683.13 411.08L683.13 385.64M613.27 435.07L613.27 409.62M690.82 391.11L620.96 415.10M682.03 384.86L612.17 408.84M690.82 391.11L620.96 415.10M682.03 384.86L612.17 408.84M690.82 391.11L682.03 384.86M620.96 415.10L612.17 408.84M690.82 391.11L682.03 384.86M620.96 415.10L612.17 408.84M690.82 391.11L690.82 391.11M620.96 415.10L620.96 415.10M682.03 384.86L682.03 384.86M612.17 408.84L612.17 408.84M706.74 578.40L636.88 602.38M682.03 560.80L612.17 584.79M706.74 537.07L636.88 561.06M682.03 519.48L612.17 543.46M706.74 578.40L682.03 560.80M636.88 602.38L612.17 584.79M706.74 537.07L682.03 519.48M636.88 561.06L612.17 543.46M706.74 578.40L706.74 537.07M636.88 602.38L636.88 561.06M682.03 560.80L682.03 519.48M612.17 584.79L612.17 543.46M706.74 556.74L636.88 580.73M682.03 539.15L612.17 563.13M706.74 556.74L636.88 580.73M682.03 539.15L612.17 563.13M706.74 556.74L682.03 539.15M636.88 580.73L612.17 563.13M706.74 556.74L682.03 539.15M636.88 580.73L612.17 563.13M706.74 556.74L706.74 556.74M636.88 580.73L636.88 580.73M682.03 539.15L682.03 539.15M612.17 563.13L612.17 563.13M636.88 602.38L604.50 613.50M612.17 584.79L579.79 595.90M636.88 519.46L604.50 530.58M612.17 501.87L579.79 512.98M636.88 602.38L612.17 584.79M604.50 613.50L579.79 595.90M636.88 519.46L612.17 501.87M604.50 530.58L579.79 512.98M636.88 602.38L636.88 519.46M604.50 613.50L604.50 530.58M612.17 584.79L612.17 501.87M579.79 595.90L579.79 512.98M636.88 560.88L604.50 571.99M612.17 543.28L579.79 554.40M636.88 560.88L604.50 571.99M612.17 543.28L579.79 554.40M636.88 560.88L612.17 543.28M604.50 571.99L579.79 554.40M636.88 560.88L612.17 543.28M604.50 571.99L579.79 554.40M636.88 560.88L636.88 560.88M604.50 571.99L604.50 571.99M612.17 543.28L612.17 543.28M579.79 554.40L579.79 554.40M633.87 536.71L604.22 546.89M611.36 520.68L581.71 530.86M633.87 522.28L604.22 532.46M611.36 506.25L581.71 516.43M633.87 536.71L611.36 520.68M604.22 546.89L581.71 530.86M633.87 522.28L611.36 506.25M604.22 532.46L581.71 516.43M633.87 536.71L633.87 522.28M604.22 546.89L604.22 532.46M611.36 520.68L611.36 506.25M581.71 530.86L581.71 516.43M624.25 510.47L591.87 521.59M612.17 501.87L579.79 512.98M624.25 394.89L591.87 406.00M612.17 386.28L579.79 397.40M624.25 510.47L612.17 501.87M591.87 521.59L579.79 512.98M624.25 394.89L612.17 386.28M591.87 406.00L579.79 397.40M624.25 510.47L624.25 394.89M591.87 521.59L591.87 406.00M612.17 501.87L612.17 386.28M579.79 512.98L579.79 397.40M624.25 483.76L591.87 494.88M612.17 475.16L579.79 486.28M624.25 483.76L591.87 494.88M612.17 475.16L579.79 486.28M624.25 483.76L612.17 475.16M591.87 494.88L579.79 486.28M624.25 483.76L612.17 475.16M591.87 494.88L579.79 486.28M624.25 483.76L624.25 483.76M591.87 494.88L591.87 494.88M612.17 475.16L612.17 475.16M579.79 486.28L579.79 486.28M624.25 454.44L591.87 465.55M612.17 445.84L579.79 456.95M624.25 454.44L591.87 465.55M612.17 445.84L579.79 456.95M624.25 454.44L612.17 445.84M591.87 465.55L579.79 456.95M624.25 454.44L612.17 445.84M591.87 465.55L579.79 456.95M624.25 454.44L624.25 454.44M591.87 465.55L591.87 465.55M612.17 445.84L612.17 445.84M579.79 456.95L579.79 456.95M624.25 425.11L591.87 436.23M612.17 416.51L579.79 427.63M624.25 425.11L591.87 436.23M612.17 416.51L579.79 427.63M624.25 425.11L612.17 416.51M591.87 436.23L579.79 427.63M624.25 425.11L612.17 416.51M591.87 436.23L579.79 427.63M624.25 425.11L624.25 425.11M591.87 436.23L591.87 436.23M612.17 416.51L612.17 416.51M579.79 427.63L579.79 427.63" fill="none" stroke="#969696" stroke-width="2.5" stroke-linejoin="round" stroke-linecap="round"/>
<path d="M672.45 400.26q-2.2 1.4 -4.2 4q1.6 1.6 3.8 4.4M648.60 408.45q-2.2 1.4 -4.2 4q1.6 1.6 3.8 4.4M625.59 416.35q-2.2 1.4 -4.2 4q1.6 1.6 3.8 4.4M679.73 401.25L616.68 422.89" fill="none" stroke="#969696" stroke-width="2" stroke-linejoin="round" stroke-linecap="round"/>
<path d="M696.12 577.13L695.79 576.77L695.70 576.38L695.88 575.99L696.29 575.63L696.91 575.35L697.66 575.16L698.48 575.10L699.29 575.15L700.00 575.33L700.55 575.60L700.88 575.96L700.97 576.35L700.79 576.74L700.38 577.10L699.76 577.38L699.01 577.57L698.19 577.63L697.38 577.58L696.67 577.40ZM620.61 584.50L620.28 584.15L620.20 583.76L620.37 583.37L620.79 583.01L621.40 582.73L622.16 582.54L622.98 582.47L623.78 582.53L624.50 582.71L625.05 582.98L625.38 583.33L625.46 583.73L625.29 584.12L624.87 584.48L624.26 584.76L623.50 584.95L622.68 585.01L621.88 584.96L621.16 584.78ZM604.10 608.72L603.77 608.36L603.69 607.97L603.86 607.58L604.28 607.22L604.89 606.94L605.64 606.75L606.47 606.69L607.27 606.74L607.98 606.92L608.53 607.19L608.87 607.55L608.95 607.94L608.77 608.33L608.36 608.69L607.75 608.97L606.99 609.16L606.17 609.22L605.36 609.17L604.65 608.99ZM586.53 596.20L586.20 595.85L586.12 595.46L586.29 595.07L586.71 594.71L587.32 594.43L588.08 594.24L588.90 594.17L589.70 594.23L590.42 594.41L590.97 594.68L591.30 595.03L591.38 595.43L591.21 595.82L590.79 596.18L590.18 596.46L589.42 596.65L588.60 596.71L587.80 596.66L587.08 596.48Z" fill="#969696" stroke="#969696" stroke-width="1.2"/>
<defs><radialGradient id="mg" cx="0.3" cy="0.55" r="0.75" fx="0.25" fy="0.58"><stop offset="0" stop-color="#ffffff"/><stop offset="0.3" stop-color="#f6f7f7"/><stop offset="0.7" stop-color="#d3d5d7"/><stop offset="1" stop-color="#bfc2c5"/></radialGradient></defs>
<polygon points="764,418.6 835.2,394.2 835.2,566.4 764,591.5" fill="url(#mg)"/>
<line x1="764.6" y1="418.6" x2="764.6" y2="591.3" stroke="#7c7c7c" stroke-width="1.3"/>
<line x1="764" y1="418.3" x2="835.2" y2="393.9" stroke="#7a7a7a" stroke-width="1"/>
<polygon points="863.3,407.8 934,383.3 935,558.4 864.6,581.3" fill="none" stroke="#979797" stroke-width="2.6"/>
<text x="59.2" y="291.00">Стол письменный ПРАВЫЙ</text>
<text x="59.2" y="300.35">(ориентир по тумбе)</text>
<text x="59.2" y="309.70">1200x600x760</text>
<text x="506.1" y="291.00">Стол письменный ЛЕВЫЙ</text>
<text x="506.1" y="300.35">(ориентир по тумбе)</text>
<text x="506.1" y="309.70">1200x600x760</text>
<text x="59.2" y="651.60">Прихожая ПРАВАЯ</text>
<text x="59.2" y="660.95">(ориентир по зеркалу)</text>
<text x="59.2" y="670.30">1200x450x2200</text>
<text x="506.1" y="651.60">Прихожая ЛЕВАЯ</text>
<text x="506.1" y="660.95">(ориентир по зеркалу)</text>
<text x="506.1" y="670.30">1200x450x2200</text>
<text x="763.3" y="651.90">Зеркало универсальное</text>
<text x="763.3" y="661.25">1400x600</text>
</svg></body></html>
